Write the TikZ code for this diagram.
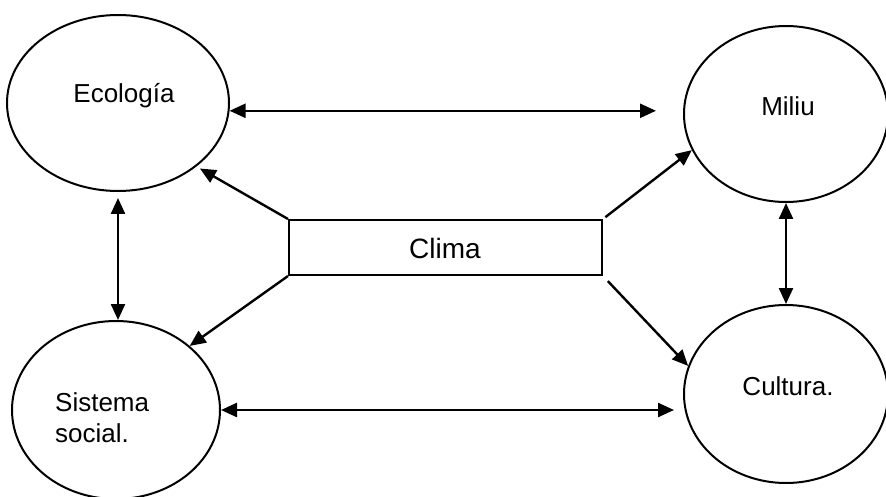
\documentclass[tikz,border=0pt]{standalone}
\usepackage{fontspec}
\setmainfont{Liberation Sans}
\usetikzlibrary{shapes.geometric,arrows.meta}
\begin{document}
\begin{tikzpicture}[x=1pt,y=-1pt,
  bubble/.style={draw,ellipse,line width=2pt,inner sep=0pt},
  txt/.style={inner sep=0pt,font=\fontsize{26}{31}\selectfont},
  tip/.style={-{Triangle[length=16pt,width=14pt]}},
  both/.style={{Triangle[length=16pt,width=14pt]}-{Triangle[length=16pt,width=14pt]}},
  link/.style={line width=2.4pt}]
  \useasboundingbox (0,0) rectangle (886,497);
  \clip (0,0) rectangle (886,497);
  \fill[white] (0,0) rectangle (886,497);

  % the four fields
  \node[bubble,minimum width=222pt,minimum height=176pt] (eco) at (118,103) {};
  \node[bubble,minimum width=204pt,minimum height=176pt] (mil) at (786,114) {};
  \node[bubble,minimum width=208pt,minimum height=178pt] (sis) at (116,410) {};
  \node[bubble,minimum width=204pt,minimum height=178pt] (cul) at (786,394) {};

  % central box
  \node[draw,line width=2pt,minimum width=313pt,minimum height=55pt,inner sep=0pt] (cli) at (445.5,247.5) {};

  % texts
  \node[txt] (ecot) at (124,96) {Ecología};
  \node[txt] (milt) at (788,106) {Miliu};
  \node[txt] (cult) at (788,386) {Cultura.};
  \node[inner sep=0pt,font=\fontsize{28}{33}\selectfont] (clit) at (445,248) {Clima};
  \node[txt,align=left,anchor=west] (sist) at (55,418) {Sistema\\social.};

  % mutual links between fields
  \draw[link,both,shorten >=27pt] (eco.-4.7) -- (eco.-4.7 -| mil.west);
  \draw[link,both,shorten >=9pt] (sis.east) -- (sis.east -| cul.west);
  \draw[link,both,shorten <=6pt] (eco.south) -- (eco.south |- sis.north);
  \draw[link,both] (mil.south) -- (cul.north);

  % influence of climate
  \draw[link,tip,shorten >=4pt] (cli.north west) -- (eco.-39.6);
  \draw[link,tip] (cli.south west) -- (sis.41.6);
  \draw[link,tip,shorten <=3pt] (cli.north east) -- (mil.201.4);
  \draw[link,tip,shorten <=7pt] (cli.south east) -- (cul.164.8);
\end{tikzpicture}
\end{document}
